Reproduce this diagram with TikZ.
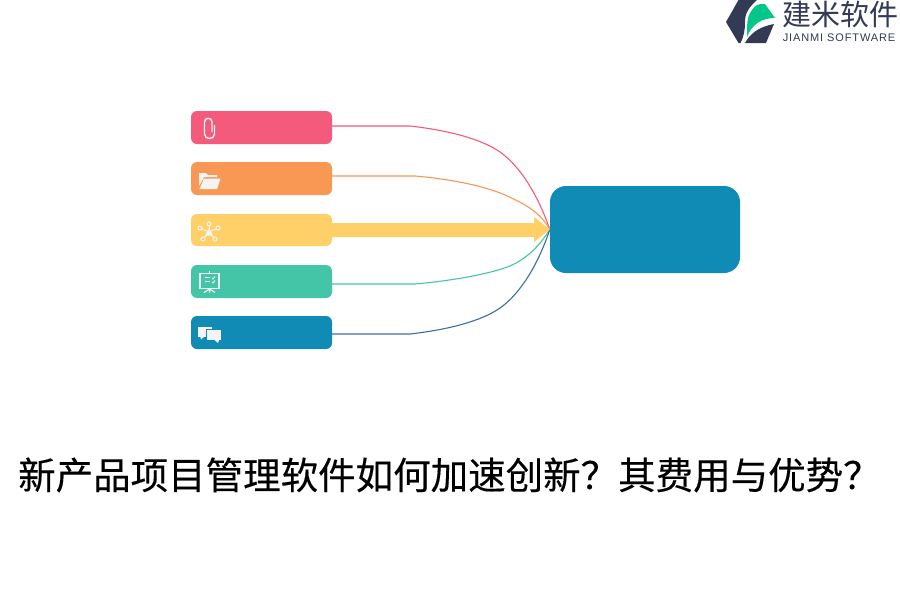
\documentclass[tikz,border=0pt]{standalone}
\usepackage{fontspec}
\setmainfont{Liberation Sans}
\newfontfamily\cjk{Noto Sans CJK SC}
\definecolor{cpink}{HTML}{F35A7C}
\definecolor{corange}{HTML}{F99855}
\definecolor{cyellow}{HTML}{FFD068}
\definecolor{cteal}{HTML}{44C5A8}
\definecolor{cblue}{HTML}{108BB6}
\definecolor{cline}{HTML}{3F6CA5}
\definecolor{cnavy}{HTML}{323A56}
\definecolor{cgreen}{HTML}{05C68A}
\definecolor{cicon}{HTML}{F4F4F2}
\tikzset{
  x=1pt,y=-1pt,
  itembox/.style={fill=#1,rounded corners=6pt,minimum width=141pt,minimum height=33pt,inner sep=0pt,draw=none},
  hubbox/.style={fill=cblue,rounded corners=16pt,minimum width=190pt,minimum height=87pt,inner sep=0pt},
  link/.style={draw=#1,line width=1.1pt},
  iconline/.style={draw=cicon,line width=1.4pt,fill=none},
  iconfill/.style={fill=cicon,draw=none},
}
\begin{document}
\begin{tikzpicture}
\useasboundingbox (0,0) rectangle (900,600);
\fill[white] (0,0) rectangle (900,600);
\node[itembox=cpink] (b1) at (261.5,127.5) {};
\node[itembox=corange] (b2) at (261.5,178.5) {};
\node[itembox=cyellow,minimum height=32pt] (b3) at (261.5,230) {};
\node[itembox=cteal] (b4) at (261.5,281.5) {};
\node[itembox=cblue] (b5) at (261.5,332.5) {};
\node[hubbox] (hub) at (645,229.5) {};
\coordinate (p1) at (332,126);
\coordinate (p2) at (332,176);
\coordinate (p4) at (332,284);
\coordinate (p5) at (332,334);
\draw[link=cpink] (p1) -- (410,126) .. controls (445,130) and (480,138) .. (500,152) .. controls (520,166) and (538,195) .. (hub.west);
\draw[link=corange] (p2) -- (415,176) .. controls (450,179) and (485,186) .. (505,195) .. controls (525,204) and (540,212) .. (hub.west);
\draw[link=cteal] (p4) -- (415,284) .. controls (450,281) and (490,274) .. (510,266) .. controls (528,258) and (540,245) .. (hub.west);
\draw[link=cline] (p5) -- (410,334) .. controls (445,330) and (480,322) .. (500,308) .. controls (520,294) and (538,265) .. (hub.west);
% thick yellow arrow
\fill[cyellow] (331,223) -- (534,223) -- (534,217) -- (hub.west) -- (534,242) -- (534,237) -- (331,237) -- cycle;
% paperclip icon
\draw[iconline] (212,132) -- (212,122) .. controls (212,117) and (204.5,117) .. (204.5,122) -- (204.5,134) .. controls (204.5,140) and (214.5,140) .. (214.5,134) -- (214.5,125);
% folder icon
\fill[iconfill] (199,186) -- (199,173) -- (206,173) -- (208,175) -- (217,175) -- (217,177) -- (204,177) -- cycle;
\fill[iconfill] (199.5,189) -- (204,178.5) -- (220.5,178.5) -- (217,189) -- cycle;
% network icon
\foreach \a/\b in {209/224,200/228,218/228,203/239,215/239}{
  \draw[iconline,line width=1pt] (209,232) -- (\a,\b);
  \fill[cyellow] (\a,\b) circle (2pt);
  \draw[iconline,line width=1pt] (\a,\b) circle (2pt);
}
\fill[iconfill] (209,228) -- (213,235.5) -- (205,235.5) -- cycle;
% presentation icon
\draw[iconline] (200,273.5) rectangle (219,288.5);
\draw[iconline] (209.5,271) -- (209.5,273);
\draw[iconline,line width=1.1pt] (209.5,289) -- (209.5,292.5) (209.5,289) -- (204,292.5) (209.5,289) -- (215,292.5);
\draw[iconline,line width=1.1pt] (205,277.5) -- (210,277.5) (205,281.5) -- (210,281.5);
\draw[iconline,line width=1pt] (212,278) -- (213,279) -- (215,276.5) (212,282) -- (213,283) -- (215,280.5);
% chat icon
\fill[iconfill] (198,327) rectangle (212,336.5);
\fill[iconfill] (200,336) -- (205,336) -- (201,339.5) -- cycle;
\fill[cblue] (205.5,329) rectangle (222,341.5);
\fill[iconfill] (207,330) rectangle (221,340);
\fill[iconfill] (214.5,340) -- (219,340) -- (218,343) -- cycle;
% logo
\fill[cnavy] (726,22) -- (738.5,0) -- (757,0) .. controls (748,8) and (745,14) .. (745,22) .. controls (745,30) and (744,36) .. (740.5,43) -- (738.5,43) -- cycle;
\fill[cgreen] (747,37) .. controls (747,25) and (747,18) .. (750,13) .. controls (753,8) and (756,4) .. (761,4) -- (765,4) -- (775,18) .. controls (762,18) and (752,24) .. (747,37) -- cycle;
\fill[cnavy] (774,24) -- (766,43) -- (745,43) .. controls (750,34) and (758,27) .. (774,24) -- cycle;
\node[font=\cjk\fontsize{29}{29}\selectfont,text=cnavy,inner sep=0pt,anchor=center] (lt) at (840,14) {建米软件};
\node[font=\fontsize{11}{11}\selectfont,text=cnavy,inner sep=0pt,anchor=center] (ls) at (839,38) {\addfontfeature{LetterSpace=8}JIANMI SOFTWARE};
% title
\node[font=\cjk\fontsize{37.5}{40}\selectfont,text=black,inner sep=0pt,anchor=west] (title) at (18,475) {\addfontfeature{FakeBold=0.3}新产品项目管理软件如何加速创新？其费用与优势？};
\end{tikzpicture}
\end{document}
